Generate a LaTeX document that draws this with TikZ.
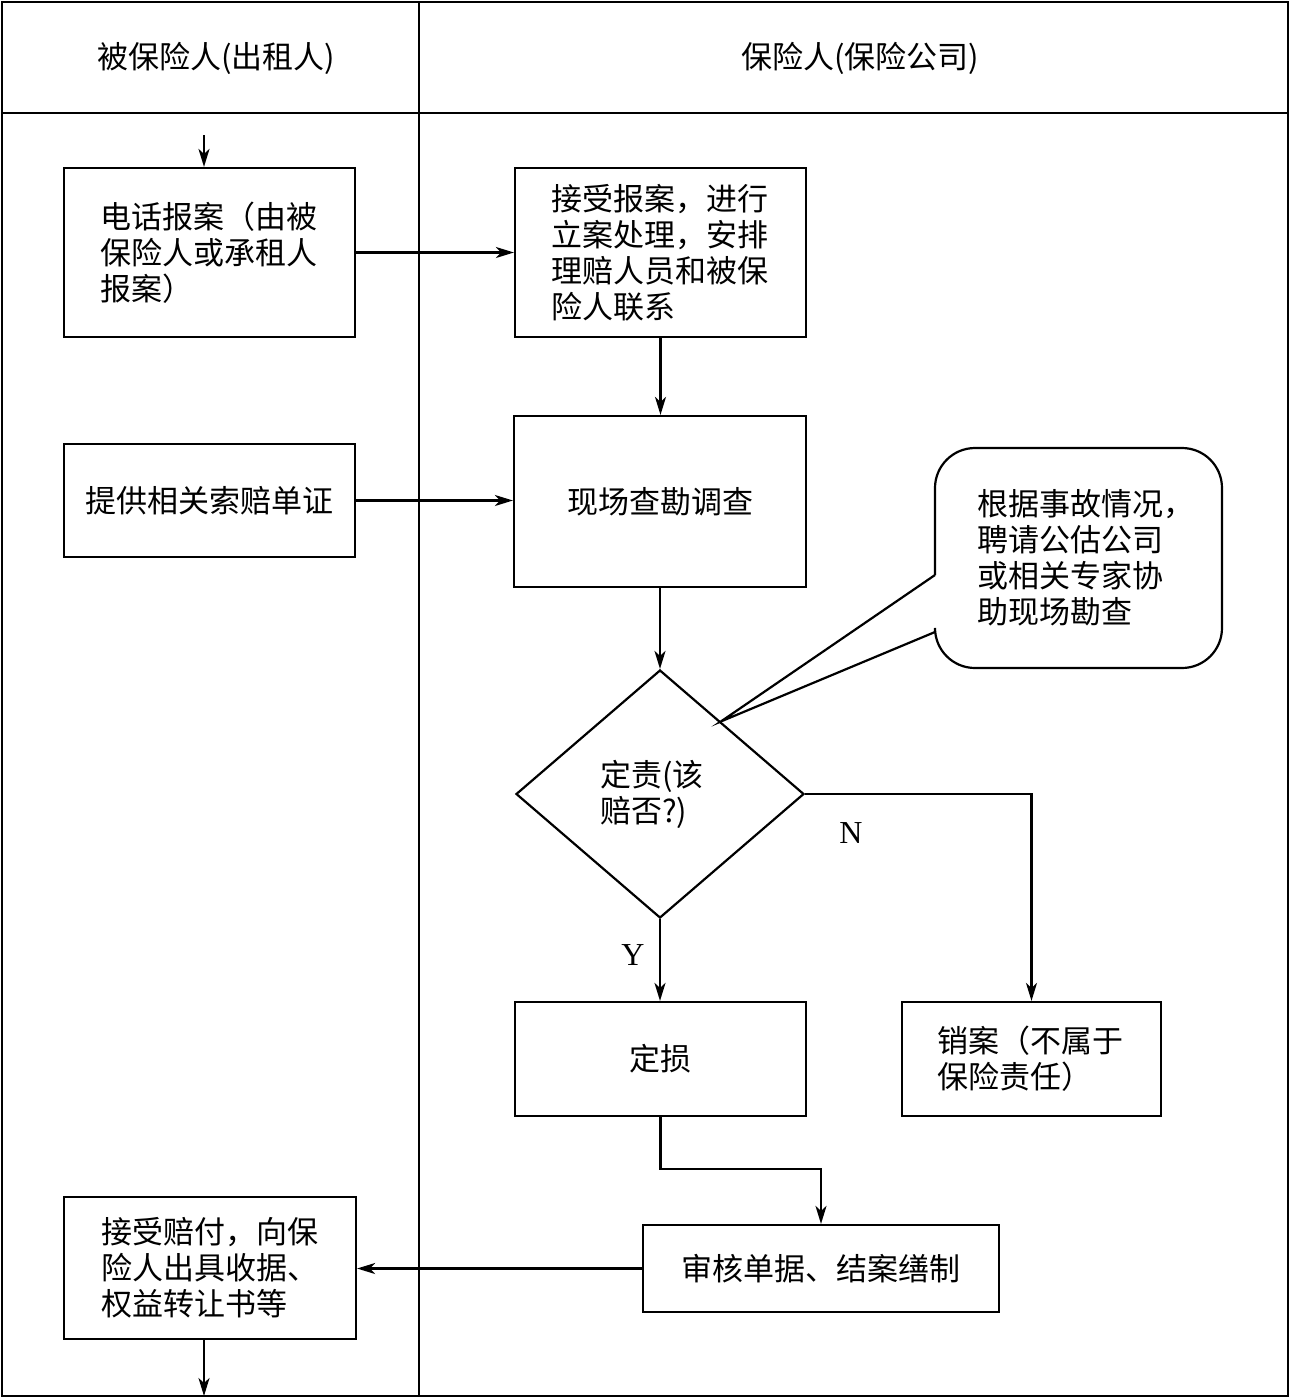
\documentclass[tikz,border=0pt]{standalone}
\usepackage{fontspec}
\setmainfont{Liberation Serif}
\newfontfamily\cjk{Noto Sans CJK SC}
\usetikzlibrary{shapes.geometric,arrows.meta,calc}
\begin{document}
\begin{tikzpicture}[x=0.5pt,y=-0.5pt, line width=1.1pt,
  txt/.style={font=\cjk\fontsize{15.5}{18}\selectfont},
  box/.style={draw, rectangle, inner sep=0pt, txt},
  arr/.style={-{Stealth[length=9pt,width=5.5pt,inset=2.5pt]}},
  lbl/.style={font=\fontsize{16}{18}\selectfont}]

\useasboundingbox (0,0) rectangle (1290,1399);
\draw[line width=1.4pt] (2,2) rectangle (1288,1396);
\draw (2,113) -- (1288,113);
\draw (419,2) -- (419,1396);

% headers
\node[txt] (h1) at (216,58) {被保险人(出租人)};
\node[txt] (h2) at (860,58) {保险人(保险公司)};

% boxes
\node[box, minimum width=145.5pt, minimum height=84.5pt, text width=109pt, align=left] (b1) at (209.5,252.5)
  {电话报案（由被\\保险人或承租人\\报案）};
\node[box, minimum width=145.5pt, minimum height=84.5pt, text width=109pt, align=left] (b2) at (660.5,252.5)
  {接受报案，进行\\立案处理，安排\\理赔人员和被保\\险人联系};
\node[box, minimum width=145.5pt, minimum height=56.5pt, align=center] (b3) at (209.5,500.5) {提供相关索赔单证};
\node[box, minimum width=146pt, minimum height=85.5pt, align=center] (b4) at (660,501.5) {现场查勘调查};
\node[draw, diamond, aspect=1.16, inner sep=0pt, minimum width=144pt, minimum height=124pt, txt,
  text width=60pt, align=left] (dia) at (660,794) {定责(该\\赔否?)};
\node[box, minimum width=145.5pt, minimum height=57pt, align=center] (b5) at (660.5,1059) {定损};
\node[box, minimum width=129.5pt, minimum height=57pt, text width=94pt, align=left] (b6) at (1031.5,1059)
  {销案（不属于\\保险责任）};
\node[box, minimum width=178pt, minimum height=43.5pt, align=center] (b7) at (821,1268.5) {审核单据、结案缮制};
\node[box, minimum width=146pt, minimum height=71pt, text width=109pt, align=left] (b8) at (210,1268)
  {接受赔付，向保\\险人出具收据、\\权益转让书等};

% callout
\node[txt, text width=109pt, align=left] (note) at (1086,558)
  {根据事故情况，\\聘请公估公司\\或相关专家协\\助现场勘查};
\coordinate (tip) at ($(dia.north)!0.42!(dia.east)$);
\draw[rounded corners=20pt] (935,632) -- (935,668) -- (1222,668) -- (1222,448) -- (935,448) -- (935,575);
\draw (935,575) -- (tip) -- (935,632);

% connectors
\coordinate (s0) at (204,135);
\coordinate (e0) at (204,1396);
\draw[arr] (s0) -- (s0 |- b1.north);
\draw[arr] (b1.east) -- (b2.west);
\draw[arr] (b3.east) -- (b3.east -| b4.west);
\draw[arr] (b2.south) -- (b2.south |- b4.north);
\draw[arr] (b4.south) -- (dia.north);
\draw[arr] (dia.south) -- (dia.south |- b5.north);
\draw[arr] (dia.east) -| (b6.north);
\draw[arr] (b5.south) -- ++(0,52) -| (b7.north);
\draw[arr] (b7.west) -- (b7.west -| b8.east);
\draw[arr] (e0 |- b8.south) -- (e0);

\node[lbl] (ylab) at (633,955) {Y};
\node[lbl] (nlab) at (851,833) {N};
\end{tikzpicture}
\end{document}
